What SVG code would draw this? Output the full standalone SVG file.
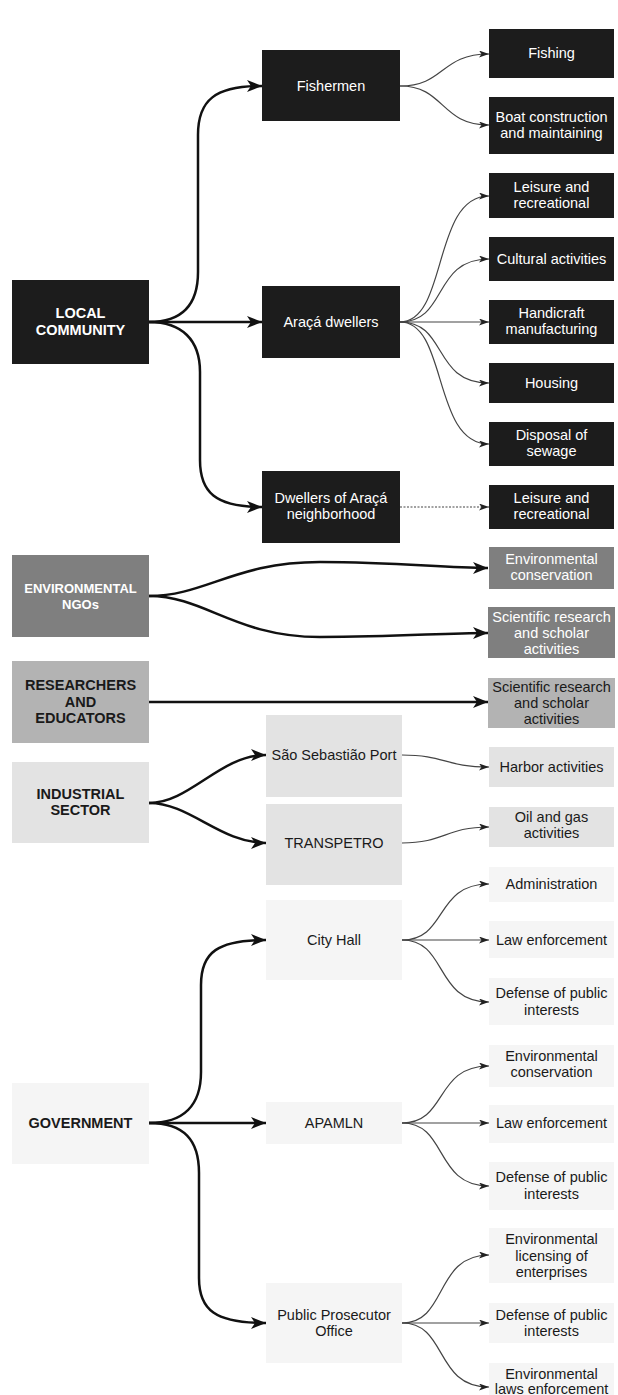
<svg xmlns="http://www.w3.org/2000/svg" width="618" height="1395" viewBox="0 0 618 1395">
<style>
text{font-family:"Liberation Sans",Arial,sans-serif;font-size:14.5px;text-anchor:middle}
.b{font-weight:bold}
.w{fill:#ffffff}
.d{fill:#1a1a1a}
.k{fill:#1c1c1c}
.g1{fill:#7f7f7f}
.g2{fill:#b3b3b3}
.g3{fill:#e3e3e3}
.g4{fill:#f5f5f5}
.thick{fill:none;stroke:#111;stroke-width:2.5;marker-end:url(#big)}
.thin{fill:none;stroke:#444;stroke-width:1.2;marker-end:url(#small)}
.dot{stroke-dasharray:2 1.5}
</style>
<defs>
<marker id="big" markerUnits="userSpaceOnUse" markerWidth="16" markerHeight="13" refX="15" refY="6" orient="auto">
<path d="M0,0 L15,6 L0,12 L4,6 Z" fill="#111"/>
</marker>
<marker id="small" markerUnits="userSpaceOnUse" markerWidth="11" markerHeight="8" refX="10" refY="3.5" orient="auto">
<path d="M0,0 L10,3.5 L0,7 L2.5,3.5 Z" fill="#222"/>
</marker>
</defs>
<rect width="618" height="1395" fill="#ffffff"/>

<g id="connectors">
<path class="thick" d="M149,322 C182,322 198,305 198,272 L198,135 C198,100 215,86 262,86"/>
<path class="thick" d="M149,322 L262,322"/>
<path class="thick" d="M149,322 C182,322 200,340 200,372 L200,460 C200,492 215,507 262,507"/>
<path class="thick" d="M149,596 C205,596 235,562 320,562 C400,562 440,568 488,568"/>
<path class="thick" d="M149,596 C205,596 235,637 320,637 C400,637 440,633 488,633"/>
<path class="thick" d="M149,702 L488,702"/>
<path class="thick" d="M149,803 C190,803 220,755 266,755"/>
<path class="thick" d="M149,803 C190,803 220,843 266,843"/>
<path class="thick" d="M149,1123 C184,1123 201,1105 201,1072 L201,985 C201,952 218,940 266,940"/>
<path class="thick" d="M149,1123 L266,1123"/>
<path class="thick" d="M149,1123 C184,1123 199,1140 199,1173 L199,1278 C199,1310 215,1323 266,1323"/>

<path class="thin" d="M400,86 C445,86 440,54 489,54"/>
<path class="thin" d="M400,86 C445,86 440,125 489,125"/>
<path class="thin" d="M400,322 C448,322 432,196 489,196"/>
<path class="thin" d="M400,322 C448,322 432,259 489,259"/>
<path class="thin" d="M400,322 L489,322"/>
<path class="thin" d="M400,322 C448,322 432,383 489,383"/>
<path class="thin" d="M400,322 C448,322 432,444 489,444"/>
<path class="thin dot" d="M400,507 L489,507"/>
<path class="thin" d="M402,755 C445,755 445,767 489,767"/>
<path class="thin" d="M402,843 C445,843 445,827 489,827"/>
<path class="thin" d="M402,940 C448,940 434,884 489,884"/>
<path class="thin" d="M402,940 L489,940"/>
<path class="thin" d="M402,940 C448,940 434,1002 489,1002"/>
<path class="thin" d="M402,1123 C448,1123 434,1066 489,1066"/>
<path class="thin" d="M402,1123 L489,1123"/>
<path class="thin" d="M402,1123 C448,1123 434,1186 489,1186"/>
<path class="thin" d="M402,1323 C448,1323 434,1255 489,1255"/>
<path class="thin" d="M402,1323 L489,1323"/>
<path class="thin" d="M402,1323 C448,1323 434,1387 489,1387"/>
</g>

<g id="local-community"><rect class="k" x="12" y="280" width="137" height="84"/><text class="b w" x="80.5" y="318">LOCAL</text><text class="b w" x="80.5" y="335">COMMUNITY</text></g>
<g id="fishermen"><rect class="k" x="262" y="50" width="138" height="71"/><text class="w" x="331" y="91">Fishermen</text></g>
<g id="araca-dwellers"><rect class="k" x="262" y="286" width="138" height="72"/><text class="w" x="331" y="327">Araçá dwellers</text></g>
<g id="dwellers-neighborhood"><rect class="k" x="262" y="471" width="138" height="72"/><text class="w" x="331" y="503">Dwellers of Araçá</text><text class="w" x="331" y="519">neighborhood</text></g>
<g id="fishing"><rect class="k" x="489" y="29" width="125" height="49"/><text class="w" x="551.5" y="58">Fishing</text></g>
<g id="boat"><rect class="k" x="489" y="97" width="125" height="57"/><text class="w" x="551.5" y="122">Boat construction</text><text class="w" x="551.5" y="138">and maintaining</text></g>
<g id="leisure1"><rect class="k" x="489" y="173" width="125" height="45"/><text class="w" x="551.5" y="192">Leisure and</text><text class="w" x="551.5" y="208">recreational</text></g>
<g id="cultural"><rect class="k" x="489" y="237" width="125" height="44"/><text class="w" x="551.5" y="264">Cultural activities</text></g>
<g id="handicraft"><rect class="k" x="489" y="300" width="125" height="44"/><text class="w" x="551.5" y="318">Handicraft</text><text class="w" x="551.5" y="334">manufacturing</text></g>
<g id="housing"><rect class="k" x="489" y="363" width="125" height="40"/><text class="w" x="551.5" y="388">Housing</text></g>
<g id="disposal"><rect class="k" x="489" y="422" width="125" height="44"/><text class="w" x="551.5" y="440">Disposal of</text><text class="w" x="551.5" y="456">sewage</text></g>
<g id="leisure2"><rect class="k" x="489" y="485" width="125" height="44"/><text class="w" x="551.5" y="503">Leisure and</text><text class="w" x="551.5" y="519">recreational</text></g>

<g id="env-ngos"><rect class="g1" x="12" y="555" width="137" height="82"/><text class="b w" x="80.5" y="593" style="font-size:13px">ENVIRONMENTAL</text><text class="b w" x="80.5" y="609" style="font-size:13px">NGOs</text></g>
<g id="env-conservation1"><rect class="g1" x="489" y="547" width="125" height="42"/><text class="w" x="551.5" y="564">Environmental</text><text class="w" x="551.5" y="580">conservation</text></g>
<g id="sci-research1"><rect class="g1" x="488" y="607" width="127" height="51"/><text class="w" x="551.5" y="622">Scientific research</text><text class="w" x="551.5" y="638">and scholar</text><text class="w" x="551.5" y="654">activities</text></g>

<g id="researchers"><rect class="g2" x="12" y="661" width="137" height="82"/><text class="b d" x="80.5" y="690">RESEARCHERS</text><text class="b d" x="80.5" y="707">AND</text><text class="b d" x="80.5" y="723">EDUCATORS</text></g>
<g id="sci-research2"><rect class="g2" x="488" y="678" width="127" height="50"/><text class="d" x="551.5" y="692">Scientific research</text><text class="d" x="551.5" y="708">and scholar</text><text class="d" x="551.5" y="724">activities</text></g>

<g id="industrial"><rect class="g3" x="12" y="762" width="137" height="81"/><text class="b d" x="80.5" y="799">INDUSTRIAL</text><text class="b d" x="80.5" y="815">SECTOR</text></g>
<g id="port"><rect class="g3" x="266" y="715" width="136" height="82"/><text class="d" x="334" y="760">São Sebastião Port</text></g>
<g id="transpetro"><rect class="g3" x="266" y="804" width="136" height="81"/><text class="d" x="334" y="848">TRANSPETRO</text></g>
<g id="harbor"><rect class="g3" x="489" y="747" width="125" height="40"/><text class="d" x="551.5" y="772">Harbor activities</text></g>
<g id="oil-gas"><rect class="g3" x="489" y="807" width="125" height="40"/><text class="d" x="551.5" y="822">Oil and gas</text><text class="d" x="551.5" y="838">activities</text></g>

<g id="government"><rect class="g4" x="12" y="1083" width="137" height="81"/><text class="b d" x="80.5" y="1128">GOVERNMENT</text></g>
<g id="city-hall"><rect class="g4" x="266" y="900" width="136" height="80"/><text class="d" x="334" y="945">City Hall</text></g>
<g id="apamln"><rect class="g4" x="266" y="1102" width="136" height="42"/><text class="d" x="334" y="1128">APAMLN</text></g>
<g id="prosecutor"><rect class="g4" x="266" y="1283" width="136" height="80"/><text class="d" x="334" y="1320">Public Prosecutor</text><text class="d" x="334" y="1336">Office</text></g>
<g id="administration"><rect class="g4" x="489" y="867" width="125" height="35"/><text class="d" x="551.5" y="889">Administration</text></g>
<g id="law1"><rect class="g4" x="489" y="921" width="125" height="37"/><text class="d" x="551.5" y="945">Law enforcement</text></g>
<g id="defense1"><rect class="g4" x="489" y="978" width="125" height="47"/><text class="d" x="551.5" y="998">Defense of public</text><text class="d" x="551.5" y="1015">interests</text></g>
<g id="env-conservation2"><rect class="g4" x="489" y="1045" width="125" height="42"/><text class="d" x="551.5" y="1061">Environmental</text><text class="d" x="551.5" y="1077">conservation</text></g>
<g id="law2"><rect class="g4" x="489" y="1105" width="125" height="38"/><text class="d" x="551.5" y="1128">Law enforcement</text></g>
<g id="defense2"><rect class="g4" x="489" y="1162" width="125" height="48"/><text class="d" x="551.5" y="1182">Defense of public</text><text class="d" x="551.5" y="1199">interests</text></g>
<g id="env-licensing"><rect class="g4" x="489" y="1228" width="125" height="55"/><text class="d" x="551.5" y="1244">Environmental</text><text class="d" x="551.5" y="1261">licensing of</text><text class="d" x="551.5" y="1277">enterprises</text></g>
<g id="defense3"><rect class="g4" x="489" y="1303" width="125" height="40"/><text class="d" x="551.5" y="1320">Defense of public</text><text class="d" x="551.5" y="1336">interests</text></g>
<g id="env-laws"><rect class="g4" x="489" y="1363" width="125" height="40"/><text class="d" x="551.5" y="1379">Environmental</text><text class="d" x="551.5" y="1394">laws enforcement</text></g>
</svg>
